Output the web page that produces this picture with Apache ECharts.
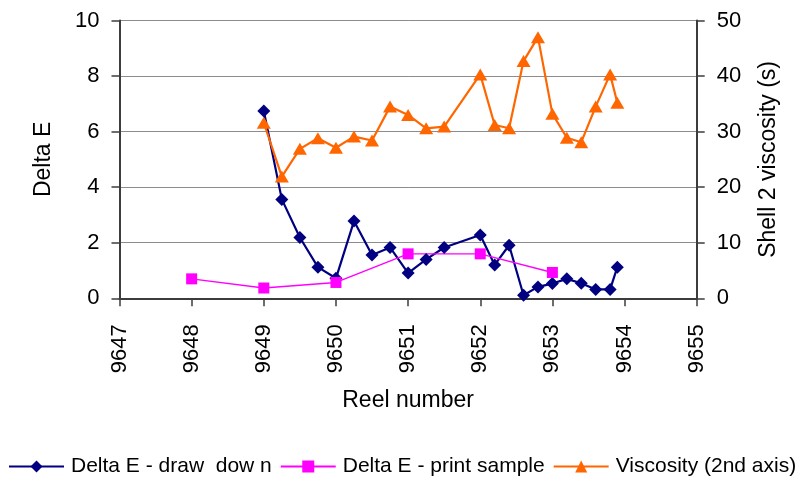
<!DOCTYPE html>
<html>
<head>
<meta charset="utf-8">
<script src="https://cdn.jsdelivr.net/npm/echarts@6/dist/echarts.min.js"></script>
<style>
  html, body { margin: 0; padding: 0; background: #ffffff; }
  #chart { width: 806px; height: 480px; }
</style>
</head>
<body>
<div id="chart"></div>
<script>
// Reel numbers on the x axis (ticks) and the two value-axis tick sets
const reelTicks = [9647, 9648, 9649, 9650, 9651, 9652, 9653, 9654, 9655];
const deltaETicks = [0, 2, 4, 6, 8, 10];
const viscosityTicks = [0, 10, 20, 30, 40, 50];

// Draw-down measurements and shell 2 viscosity, sampled at the same reels
const drawDownReels = [9649, 9649.25, 9649.5, 9649.75, 9650, 9650.25, 9650.5, 9650.75,
  9651, 9651.25, 9651.5, 9652, 9652.2, 9652.4, 9652.6, 9652.8, 9653, 9653.2, 9653.4,
  9653.6, 9653.8, 9653.9];
const drawDownDeltaE = [6.74, 3.56, 2.19, 1.12, 0.72, 2.78, 1.56, 1.83, 0.91, 1.40, 1.83,
  2.28, 1.20, 1.91, 0.11, 0.41, 0.53, 0.70, 0.54, 0.32, 0.32, 1.12];
const viscosity = [31.6, 21.9, 26.9, 28.8, 27.1, 29.1, 28.4, 34.5, 33.0, 30.6, 30.9,
  40.3, 31.2, 30.6, 42.7, 47.0, 33.2, 28.9, 28.1, 34.5, 40.3, 35.2];

// Print sample measurements, one per whole reel
const printReels = [9648, 9649, 9650, 9651, 9652, 9653];
const printDeltaE = [0.70, 0.37, 0.57, 1.60, 1.60, 0.93];

const seriesNames = ['Delta E - draw  dow n', 'Delta E - print sample', 'Viscosity (2nd axis)'];

const pair = (xs, ys) => xs.map((x, i) => [x, ys[i]]);
const FONT = '"Liberation Sans", Arial, sans-serif';
const AXIS_COLOR = '#3c3c3c';

const chart = echarts.init(document.getElementById('chart'), null, { renderer: 'canvas' });

chart.setOption({
  animation: false,
  backgroundColor: '#ffffff',
  textStyle: { fontFamily: FONT, color: '#000' },
  grid: {
    left: 119.5, right: 109.3, top: 20.5, bottom: 181.7,
    containLabel: false, outerBoundsMode: 'none'
  },
  legend: {
    data: seriesNames,
    left: 8, top: 456, padding: 0,
    itemWidth: 55, itemHeight: 15, itemGap: 8,
    textStyle: { fontFamily: FONT, fontSize: 21, color: '#000', padding: [0, 0, 0, 2] }
  },
  xAxis: {
    type: 'value',
    min: reelTicks[0], max: reelTicks[reelTicks.length - 1], interval: 1,
    name: 'Reel number', nameLocation: 'middle', nameGap: 91,
    nameTextStyle: { fontFamily: FONT, fontSize: 23, color: '#000' },
    axisLine: { show: true, onZero: false, lineStyle: { color: AXIS_COLOR, width: 2 } },
    axisTick: { show: true, inside: false, length: 8, lineStyle: { color: AXIS_COLOR, width: 1.5 } },
    axisLabel: {
      rotate: 90, margin: 26, fontFamily: FONT, fontSize: 22, color: '#000',
      formatter: v => String(v)
    },
    splitLine: { show: false }
  },
  yAxis: [
    {
      type: 'value', position: 'left',
      min: deltaETicks[0], max: deltaETicks[deltaETicks.length - 1], interval: 2,
      name: 'Delta E', nameLocation: 'middle', nameGap: 64, nameRotate: 90,
      nameTextStyle: { fontFamily: FONT, fontSize: 23, color: '#000' },
      axisLine: { show: true, lineStyle: { color: AXIS_COLOR, width: 2 } },
      axisTick: { show: true, inside: false, length: 8, lineStyle: { color: AXIS_COLOR, width: 1.5 } },
      axisLabel: { margin: 20, fontFamily: FONT, fontSize: 22, color: '#000' },
      splitLine: { show: true, lineStyle: { color: '#8c8c8c', width: 1 } }
    },
    {
      type: 'value', position: 'right',
      min: viscosityTicks[0], max: viscosityTicks[viscosityTicks.length - 1], interval: 10,
      name: 'Shell 2 viscosity (s)', nameLocation: 'middle', nameGap: 60, nameRotate: 90,
      nameTextStyle: { fontFamily: FONT, fontSize: 23, color: '#000' },
      axisLine: { show: true, lineStyle: { color: AXIS_COLOR, width: 2 } },
      axisTick: { show: true, inside: false, length: 8, lineStyle: { color: AXIS_COLOR, width: 1.5 } },
      axisLabel: { margin: 20, fontFamily: FONT, fontSize: 22, color: '#000' },
      splitLine: { show: false }
    }
  ],
  series: [
    {
      name: seriesNames[0], type: 'line', yAxisIndex: 0,
      data: pair(drawDownReels, drawDownDeltaE),
      symbol: 'diamond', symbolSize: 13, showAllSymbol: true,
      lineStyle: { color: '#000080', width: 2.2 },
      itemStyle: { color: '#000080', borderWidth: 0 }
    },
    {
      name: seriesNames[1], type: 'line', yAxisIndex: 0,
      data: pair(printReels, printDeltaE),
      symbol: 'rect', symbolSize: 11, showAllSymbol: true,
      lineStyle: { color: '#ff00ff', width: 1.4 },
      itemStyle: { color: '#ff00ff', borderWidth: 0 }
    },
    {
      name: seriesNames[2], type: 'line', yAxisIndex: 1,
      data: pair(drawDownReels, viscosity),
      symbol: 'triangle', symbolSize: [14, 12], showAllSymbol: true,
      lineStyle: { color: '#ff6600', width: 2.2 },
      itemStyle: { color: '#ff6600', borderWidth: 0 }
    }
  ]
});
</script>
</body>
</html>
